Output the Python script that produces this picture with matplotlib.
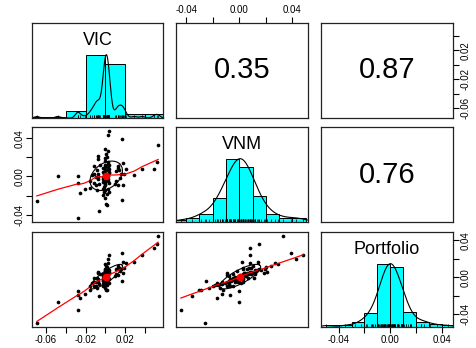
import numpy as np
import matplotlib
matplotlib.use("Agg")
import matplotlib.pyplot as plt

plt.rcParams["font.family"] = ["Liberation Sans", "DejaVu Sans"]

# daily returns
names = ["VIC", "VNM", "Portfolio"]

vic = np.array([
    -0.069, -0.048, -0.028, -0.028, -0.026, -0.028, -0.021, -0.006, 0.053, 0.052,
    0.049, 0.037, 0.029, 0.021, 0.017, 0.004, 0.003,
    0.000, 0.003, 0.001, -0.008,
    0.002, -0.007, 0.000, 0.003, 0.004, 0.013, -0.005, 0.003, 0.000, 0.018, -0.012, 0.000,
    0.000, 0.000, 0.003, 0.013, 0.004, 0.016, 0.019, -0.009, 0.003, 0.004, -0.012, -0.014,
    0.003, -0.001, 0.000, 0.000, -0.002, 0.003, 0.011, -0.002, 0.004, 0.000, -0.007, 0.014,
    -0.010, -0.002, -0.002, 0.002, 0.000, 0.000, -0.010, -0.002, 0.010, 0.013, 0.018, 0.002,
    0.000, 0.000, 0.000, -0.016, -0.008, -0.006, 0.003, 0.002, -0.001, 0.000, 0.003, -0.012,
    0.004, -0.001, 0.015, -0.007, 0.011,
    -0.001, 0.000, 0.002, -0.009, -0.001, -0.002, 0.004, -0.002, 0.003, -0.016,
    0.000, 0.001, 0.002, 0.017,
])

vnm = np.array([
    -0.026, 0.000, 0.000, -0.007, -0.017, -0.044, -0.013, -0.036, 0.033, 0.015,
    0.008, 0.008, 0.002, 0.008, 0.039, 0.048, 0.043,
    0.029, 0.027, 0.0235, 0.021,
    0.020, 0.0185, 0.0165, 0.015, 0.0115, 0.0105, 0.0115, 0.013, 0.012, 0.014, 0.011, 0.019,
    0.0095, 0.0064, 0.0064, 0.0090, 0.0043, 0.0026, 0.0030, 0.0064, 0.0095, 0.0080, 0.0024, 0.0010,
    0.0026, 0.0026, 0.0040, 0.0015, 0.0050, 0.0005, 0.0060, 0.0085, 0.0035, 0.0010, 0.0030, 0.0070,
    -0.001, -0.001, -0.003, -0.001, -0.006, -0.0095, -0.0095, -0.006, -0.0077, -0.0095, -0.0095, -0.001,
    -0.002, -0.004, -0.008, -0.005, -0.003, -0.008, -0.005, 0.000, 0.000, 0.000, -0.003, -0.007,
    -0.007, -0.004, -0.002, -0.0005, -0.005,
    -0.011, -0.0146, -0.018, -0.0146, -0.016, -0.0198, -0.0165, -0.0129, -0.0129, -0.012,
    -0.023, -0.0285, -0.030, -0.025,
])

portfolio = np.array([
    -0.050, -0.027, -0.015, -0.019, -0.023, -0.035, -0.018, -0.020, 0.045, 0.036,
    0.031, 0.024, 0.016, 0.015, 0.026, 0.024, 0.020,
    0.014, 0.015, 0.012, 0.006,
    0.011, 0.005, 0.008, 0.009, 0.008, 0.012, 0.003, 0.008, 0.006, 0.016, -0.001, 0.009,
    0.005, 0.003, 0.005, 0.0095, 0.004, 0.009, 0.0098, -0.001, 0.006, 0.006, -0.005, -0.0065,
    0.003, -0.0005, 0.002, 0.001, 0.0015, 0.002, 0.0085, 0.003, 0.004, 0.000, -0.002, 0.0095,
    -0.0055, -0.0015, -0.0025, 0.0005, -0.003, -0.005, -0.0095, -0.004, 0.001, 0.002, 0.004, 0.0005,
    -0.001, -0.002, -0.004, -0.0095, -0.0055, -0.007, -0.001, 0.001, -0.0005, 0.000, 0.000, -0.0095,
    -0.0015, -0.0025, 0.0065, -0.004, 0.003,
    -0.006, -0.0075, -0.008, -0.012, -0.0085, -0.0095, -0.006, -0.0075, -0.005, -0.014,
    -0.0115, -0.0135, -0.014, -0.004,
])

# correlations as printed in the upper panels
corr_labels = {(0, 1): "0.35", (0, 2): "0.87", (1, 2): "0.76"}

# histogram breaks (R pretty / Sturges)
breaks = [
    [-0.08, -0.06, -0.04, -0.02, 0.00, 0.02, 0.04, 0.06],
    [-0.05, -0.04, -0.03, -0.02, -0.01, 0.00, 0.01, 0.02, 0.03, 0.04, 0.05],
    [-0.05, -0.04, -0.03, -0.02, -0.01, 0.00, 0.01, 0.02, 0.03, 0.04, 0.05],
]

ticks = [
    [-0.06, -0.04, -0.02, 0.00, 0.02, 0.04],
    [-0.04, -0.02, 0.00, 0.02, 0.04],
    [-0.04, -0.02, 0.00, 0.02, 0.04],
]
tick_labels = [
    ["-0.06", "", "-0.02", "", "0.02", ""],
    ["-0.04", "", "0.00", "", "0.04"],
    ["-0.04", "", "0.00", "", "0.04"],
]

data = [vic, vnm, portfolio]


def lowess(x, y, f=2 / 3, iters=3):
    order = np.argsort(x, kind="mergesort")
    x = x[order]
    y = y[order]
    n = len(x)
    r = int(np.ceil(f * n))
    h = np.array([np.sort(np.abs(x - x[i]))[r - 1] for i in range(n)])
    w = np.clip(np.abs((x[None, :] - x[:, None]) / h[:, None]), 0, 1)
    w = (1 - w ** 3) ** 3
    robust = np.ones(n)
    fit = np.zeros(n)
    for _ in range(iters + 1):
        for i in range(n):
            wi = w[i] * robust
            sw, swx, swxx = wi.sum(), (wi * x).sum(), (wi * x * x).sum()
            swy, swxy = (wi * y).sum(), (wi * x * y).sum()
            den = sw * swxx - swx ** 2
            if abs(den) < 1e-18:
                fit[i] = swy / sw
            else:
                b = (sw * swxy - swx * swy) / den
                a = (swy - b * swx) / sw
                fit[i] = a + b * x[i]
        res = y - fit
        s = np.median(np.abs(res))
        if s == 0:
            break
        u = np.clip(res / (6 * s), -1, 1)
        robust = (1 - u ** 2) ** 2
    return x, fit


def density_nrd(x, adjust=1.2):
    n = len(x)
    q75, q25 = np.percentile(x, [75, 25])
    bw = 1.06 * min(x.std(ddof=1), (q75 - q25) / 1.34) * n ** -0.2 * adjust
    grid = np.linspace(x.min() - 3 * bw, x.max() + 3 * bw, 512)
    d = np.exp(-0.5 * ((grid[:, None] - x[None, :]) / bw) ** 2).sum(axis=1)
    return grid, d / d.max()


def hist_counts(x, b):
    # right-closed bins like R's hist()
    c = []
    for k in range(len(b) - 1):
        lo, hi = b[k], b[k + 1]
        m = (x > lo + 1e-12) & (x <= hi + 1e-12)
        if k == 0:
            m |= np.isclose(x, lo)
        c.append(m.sum())
    return np.array(c, dtype=float)


lims = []
for v in data:
    rng = v.max() - v.min()
    lims.append((v.min() - 0.04 * rng, v.max() + 0.04 * rng))

W, H = 477, 348
fig = plt.figure(figsize=(W / 100, H / 100), dpi=100)
cols = [(32, 163), (176, 308), (321, 453)]
rows = [(23, 118), (127, 222), (232, 327)]

tick_kw = dict(direction="out", length=4, width=0.8, labelsize=7, pad=1.5, colors="black")

for i in range(3):
    for j in range(3):
        x0, x1 = cols[j]
        y0, y1 = rows[i]
        ax = fig.add_axes([x0 / W, 1 - y1 / H, (x1 - x0) / W, (y1 - y0) / H])
        ax.set_xlim(lims[j])
        ax.set_xticks([])
        ax.set_yticks([])
        for sp in ax.spines.values():
            sp.set_linewidth(0.9)
            sp.set_color("#222222")

        if i == j:
            x = data[i]
            b = np.array(breaks[i])
            cnt = hist_counts(x, b)
            ax.set_ylim(0, 1.5)
            ax.bar(b[:-1], cnt / cnt.max(), width=np.diff(b), align="edge",
                   color="cyan", edgecolor="black", linewidth=0.7)
            gx, gy = density_nrd(x)
            ax.plot(gx, gy, color="black", lw=0.8)
            ax.vlines(x, 0, 0.045, color="black", lw=0.5)
            ax.text(0.5, 0.82, names[i], transform=ax.transAxes,
                    ha="center", va="center", fontsize=13)
        elif i > j:
            x, y = data[j], data[i]
            ax.set_ylim(lims[i])
            ax.scatter(x, y, s=7, color="black", zorder=2, linewidths=0)
            sx, sy = lowess(x, y)
            ax.plot(sx, sy, color="red", lw=0.9, zorder=3)
            xm, ym = x.mean(), y.mean()
            xs, ys = x.std(ddof=1), y.std(ddof=1)
            r = np.corrcoef(x, y)[0, 1]
            ang = np.linspace(0, 2 * np.pi, 52)
            circ = np.column_stack([np.cos(ang), np.sin(ang)])
            th = np.sign(r) / np.sqrt(2)
            shape = np.diag([np.sqrt(1 + r), np.sqrt(1 - r)]) @ np.array([[th, th], [-th, th]])
            ell = circ @ shape
            ax.plot(ell[:, 0] * xs + xm, ell[:, 1] * ys + ym, color="black", lw=0.8, zorder=3)
            ax.scatter([xm], [ym], s=30, color="red", zorder=4, linewidths=0)
        else:
            ax.set_ylim(lims[i])
            ax.text(0.5, 0.5, corr_labels[(i, j)], transform=ax.transAxes,
                    ha="center", va="center", fontsize=21)

        # outer axes, alternating sides like pairs()
        if i == 2 and j in (0, 2):
            ax.set_xticks(ticks[j])
            ax.set_xticklabels(tick_labels[j])
            ax.tick_params(axis="x", **tick_kw)
        if i == 0 and j == 1:
            ax.xaxis.tick_top()
            ax.set_xticks(ticks[j])
            ax.set_xticklabels(tick_labels[j])
            ax.tick_params(axis="x", **tick_kw)
        if j == 0 and i == 1:
            ax.set_yticks(ticks[i])
            ax.set_yticklabels(tick_labels[i], rotation=90, va="center")
            ax.tick_params(axis="y", **tick_kw)
        if j == 2 and i == 0:
            ax.yaxis.tick_right()
            ax.set_yticks(ticks[i])
            ax.set_yticklabels(tick_labels[i], rotation=90, va="center")
            ax.tick_params(axis="y", **tick_kw)
        if j == 2 and i == 2:
            ay = ax.twinx()
            ay.set_ylim(lims[i])
            ay.set_yticks(ticks[i])
            ay.set_yticklabels(["-0.04", "", "0.00", "", "0.04"], rotation=90, va="center")
            ay.tick_params(axis="y", **tick_kw)
            for sp in ay.spines.values():
                sp.set_visible(False)

fig.savefig("out.png", dpi=100)
